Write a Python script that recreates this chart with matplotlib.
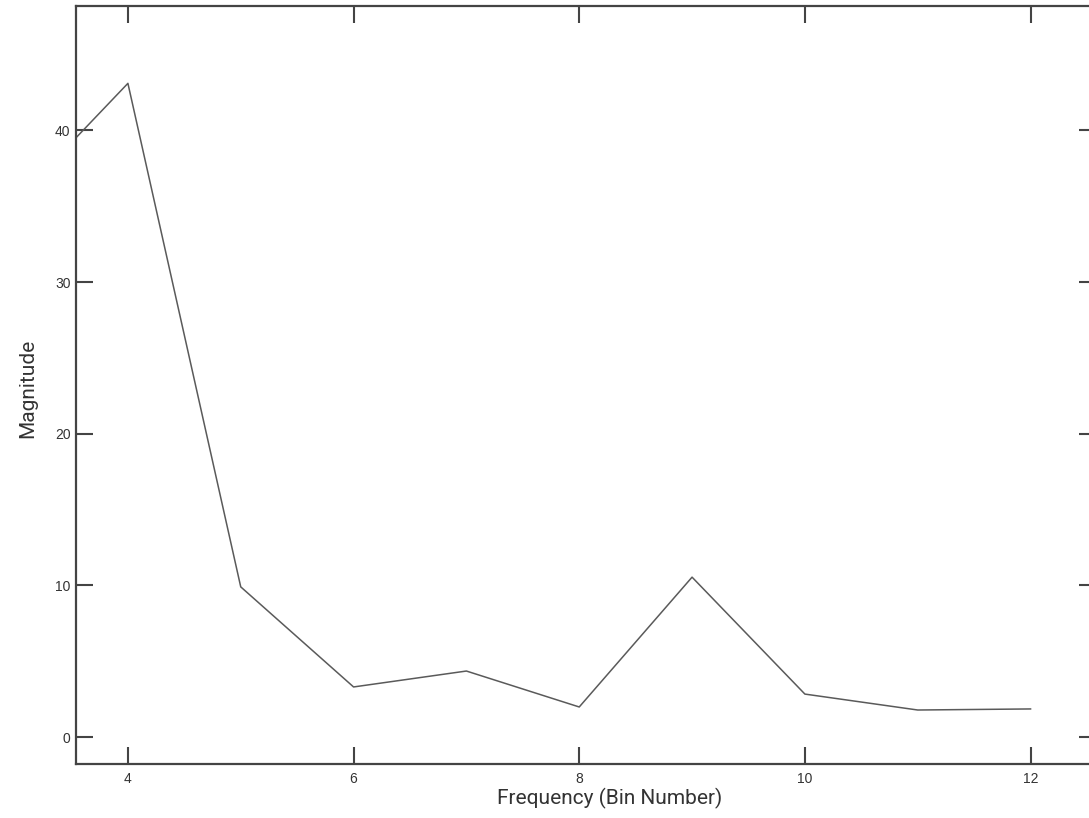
import matplotlib.pyplot as plt
from matplotlib import font_manager

# FFT magnitude per frequency bin
bins = [3, 4, 5, 6, 7, 8, 9, 10, 11, 12]
magnitude = [35.3, 43.1, 9.9, 3.3, 4.35, 1.98, 10.54, 2.83, 1.78, 1.85]

x_ticks = [4, 6, 8, 10, 12]
y_ticks = [0, 10, 20, 30, 40]


def pick_font(names):
    """first installed family from names"""
    installed = {f.name for f in font_manager.fontManager.ttflist}
    for name in names:
        if name in installed:
            return name
    return "DejaVu Sans"


label_font = pick_font(["Liberation Sans Narrow", "DejaVu Sans Condensed", "Roboto", "DejaVu Sans"])
tick_font = pick_font(["Liberation Sans", "DejaVu Sans"])

fig = plt.figure(figsize=(10.89, 8.18), dpi=100)
ax = fig.add_axes([76 / 1089, 54 / 818, 1020 / 1089, 758 / 818])

ax.plot(bins, magnitude, color="#5a5a5a", linewidth=1.1)

ax.set_xlim(3.54, 12.58)
ax.set_ylim(-1.78, 48.2)
ax.set_xticks(x_ticks)
ax.set_yticks(y_ticks)
ax.tick_params(direction="in", length=12, width=1.5, color="#444444",
               top=True, right=True, labelsize=10, labelcolor="#333333")
ax.tick_params(axis="x", pad=6)
ax.tick_params(axis="y", pad=4)
for lbl in ax.get_xticklabels() + ax.get_yticklabels():
    lbl.set_fontfamily(tick_font)
for spine in ax.spines.values():
    spine.set_color("#444444")
    spine.set_linewidth(1.6)

ax.set_xlabel("Frequency (Bin Number)", fontsize=15, family=label_font,
              color="#333333")
ax.xaxis.set_label_coords(0.5235, -0.032, transform=ax.transAxes)
ax.xaxis.label.set_va("top")
ax.set_ylabel("Magnitude", fontsize=15, family=label_font, color="#333333")
ax.yaxis.set_label_coords(-0.038, 0.496)

fig.savefig("out.png", dpi=100)
